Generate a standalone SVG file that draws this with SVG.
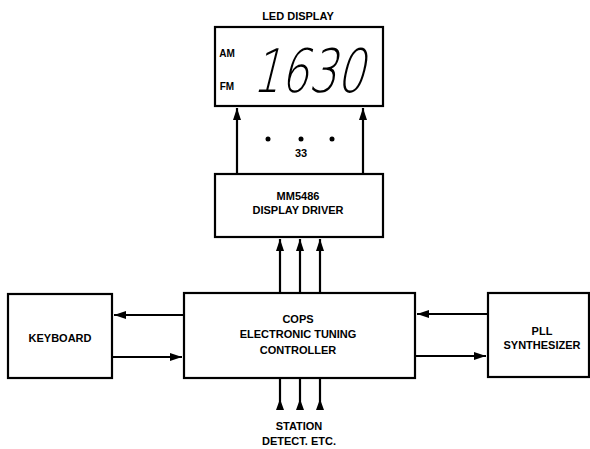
<svg xmlns="http://www.w3.org/2000/svg" width="590" height="449" viewBox="0 0 590 449">
<style>
.box{fill:#fff;stroke:#000;stroke-width:2.2}
.t{font-family:"Liberation Sans",Arial,sans-serif;font-weight:bold;font-size:11px;text-anchor:middle;fill:#000}
.ln{stroke:#000;stroke-width:2.2;fill:none}
</style>
<defs>
<marker id="ah" viewBox="0 0 12 10" refX="12" refY="5" markerWidth="12" markerHeight="10" markerUnits="userSpaceOnUse" orient="auto">
<path d="M0,1 L12,5 L0,9 Z" fill="#000"/>
</marker>
</defs>
<rect width="590" height="449" fill="#fff"/>
<g id="led-display">
<text class="t" x="298" y="20">LED DISPLAY</text>
<rect class="box" x="215" y="27" width="168" height="79"/>
<text class="t" x="227" y="57" style="font-size:10px">AM</text>
<text class="t" x="227" y="90" style="font-size:10px">FM</text>
<text x="0" y="0" transform="translate(252,92) skewX(-14)" style="font-family:'DejaVu Sans',sans-serif;font-weight:200;font-size:60px" textLength="112" lengthAdjust="spacingAndGlyphs" fill="#000">1630</text>
</g>
<g id="display-driver">
<rect class="box" x="215" y="174" width="168" height="63"/>
<text class="t" x="298" y="200">MM5486</text>
<text class="t" x="298" y="214">DISPLAY DRIVER</text>
</g>
<g id="cops">
<rect class="box" x="184" y="293" width="231" height="85"/>
<text class="t" x="298" y="323">COPS</text>
<text class="t" x="298" y="338">ELECTRONIC TUNING</text>
<text class="t" x="298" y="354">CONTROLLER</text>
</g>
<g id="keyboard">
<rect class="box" x="8" y="294" width="104" height="84"/>
<text class="t" x="60" y="342">KEYBOARD</text>
</g>
<g id="pll">
<rect class="box" x="488" y="293" width="101" height="84"/>
<text class="t" x="542" y="335">PLL</text>
<text class="t" x="542" y="349">SYNTHESIZER</text>
</g>
<g id="station">
<text class="t" x="299" y="430">STATION</text>
<text class="t" x="299" y="445">DETECT. ETC.</text>
</g>
<g id="connectors">
<line class="ln" x1="237" y1="173" x2="237" y2="108" marker-end="url(#ah)"/>
<line class="ln" x1="363" y1="173" x2="363" y2="108" marker-end="url(#ah)"/>
<circle cx="268" cy="139" r="2.5"/>
<circle cx="301" cy="139" r="2.5"/>
<circle cx="332" cy="139" r="2.5"/>
<text class="t" x="301" y="157">33</text>
<line class="ln" x1="280" y1="292" x2="280" y2="239" marker-end="url(#ah)"/>
<line class="ln" x1="300" y1="292" x2="300" y2="239" marker-end="url(#ah)"/>
<line class="ln" x1="320" y1="292" x2="320" y2="239" marker-end="url(#ah)"/>
<line class="ln" x1="183" y1="315" x2="114" y2="315" marker-end="url(#ah)"/>
<line class="ln" x1="113" y1="357" x2="182" y2="357" marker-end="url(#ah)"/>
<line class="ln" x1="487" y1="314" x2="417" y2="314" marker-end="url(#ah)"/>
<line class="ln" x1="416" y1="356" x2="486" y2="356" marker-end="url(#ah)"/>
<line class="ln" x1="280" y1="379" x2="280" y2="410"/>
<line class="ln" x1="300" y1="379" x2="300" y2="410"/>
<line class="ln" x1="320" y1="379" x2="320" y2="410"/>
<path d="M276,410 L280,399 L284,410 Z M296,410 L300,399 L304,410 Z M316,410 L320,399 L324,410 Z" fill="#000"/>
</g>
</svg>
